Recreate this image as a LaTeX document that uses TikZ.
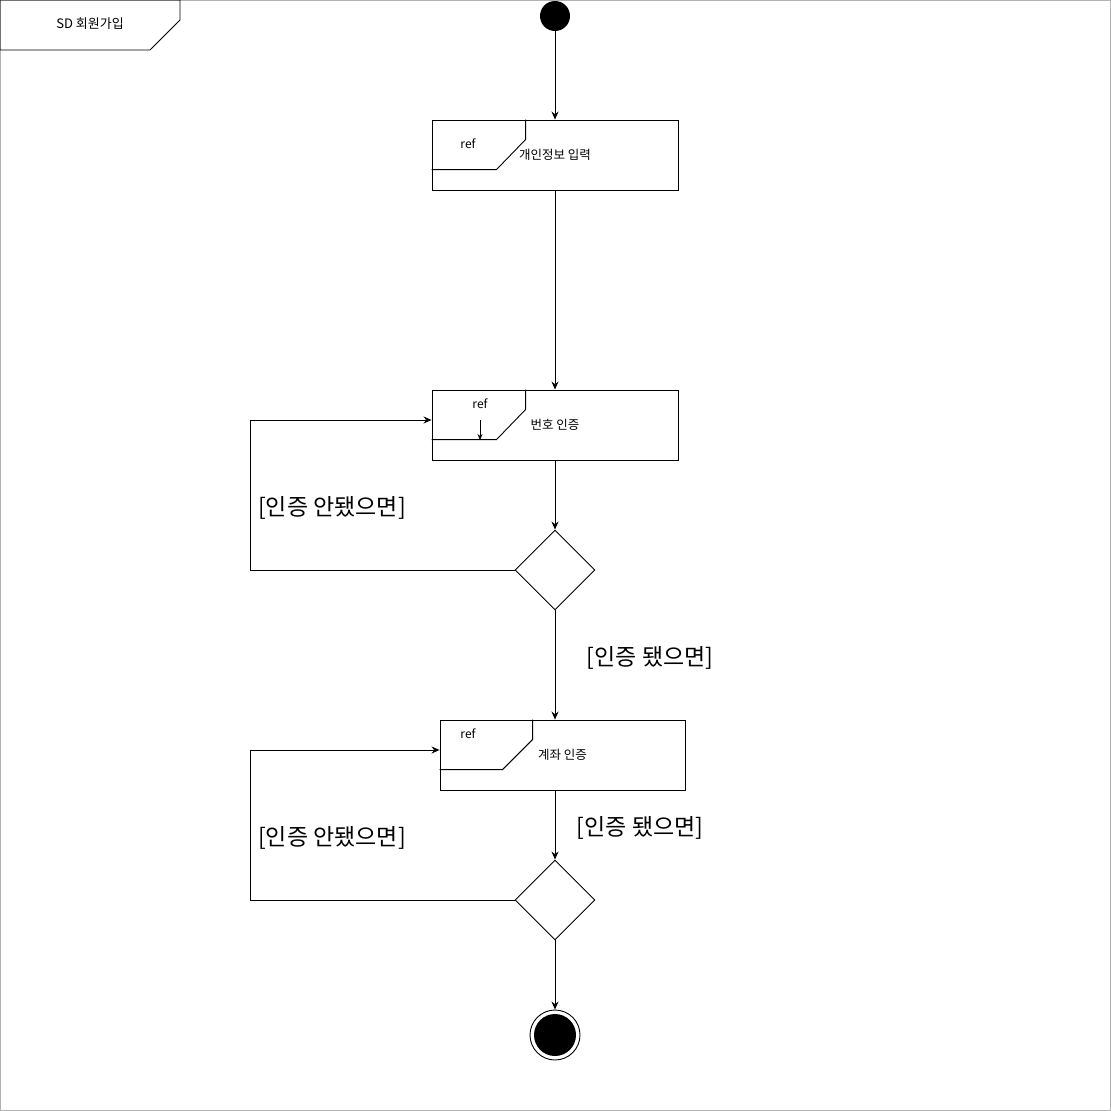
\documentclass[tikz,border=0pt]{standalone}
\usepackage{fontspec}
\setmainfont{Noto Sans CJK KR}
\usetikzlibrary{arrows.meta,shapes.geometric}

\begin{document}
\begin{tikzpicture}[x=1pt,y=-1pt,line width=0.9pt,
  flow/.style={-{Stealth[length=8pt,width=7pt]}},
  refbox/.style={draw,minimum width=246pt,minimum height=70pt,inner sep=0pt,font=\fontsize{12.5}{14}\selectfont},
  choice/.style={draw,diamond,minimum width=80pt,minimum height=80pt,inner sep=0pt,aspect=1},
  guard/.style={font=\fontsize{23}{27}\selectfont},
  small/.style={font=\fontsize{12}{14}\selectfont}]
\useasboundingbox (0,0) rectangle (1111,1111);
\draw[gray!60,line width=1.2pt] (0.6,0.6) rectangle (1110.4,1110.4);

% frame title
\draw (0,0) -- (180,0) -- (180,20) -- (150,50) -- (0,50) -- cycle;
\node[font=\fontsize{13}{15}\selectfont] (title) at (90,24) {SD 회원가입};

\node[circle,fill=black,minimum size=30pt,inner sep=0pt] (start) at (555,16) {};

\node[refbox] (info) at (555,155) {개인정보 입력};
\draw ([xshift=94pt]info.north west) -- ++(0,20) -- ++(-29,30) -- ++(-65,0);
\node[small] (r1) at (468,144) {ref};

\node[refbox] (phone) at (555,425) {번호 인증};
\draw ([xshift=94pt]phone.north west) -- ++(0,20) -- ++(-29,30) -- ++(-65,0);
\node[small] (r2) at (480,404) {ref};
\coordinate (p1) at (480,420);
\coordinate (p2) at (480,440);
\draw[-{Stealth[length=6pt,width=5pt]}] (p1) -- (p2);

\node[choice] (d1) at (555,570) {};

\node[refbox,minimum width=245pt] (bank) at (562.5,755) {계좌 인증};
\draw ([xshift=93pt]bank.north west) -- ++(0,20) -- ++(-30,30) -- ++(-63,0);
\node[small] (r3) at (468,734) {ref};

\node[choice] (d2) at (555,900) {};

\node[circle,draw,minimum size=50pt,inner sep=0pt] (stop) at (555,1035) {};
\node[circle,fill=black,minimum size=42pt,inner sep=0pt] (stopin) at (stop) {};

% flow
\draw[flow] (start) -- (info);
\draw[flow] (info) -- (phone);
\draw[flow] (phone) -- (d1);
\draw[flow] (d1) -- (d1 |- bank.north);
\draw[flow] (d1 |- bank.south) -- (d2);
\draw[flow] (d2) -- (stop);

\coordinate (l1) at (250,420);
\draw[flow] (d1.west) -| (l1) -- (l1 -| phone.west);
\coordinate (l2) at (250,750);
\draw[flow] (d2.west) -| (l2) -- (l2 -| bank.west);

\node[guard] (g1) at (332,508) {[인증 안됐으면]};
\node[guard] (g2) at (650,658) {[인증 됐으면]};
\node[guard] (g3) at (640,828) {[인증 됐으면]};
\node[guard] (g4) at (332,838) {[인증 안됐으면]};
\end{tikzpicture}
\end{document}
